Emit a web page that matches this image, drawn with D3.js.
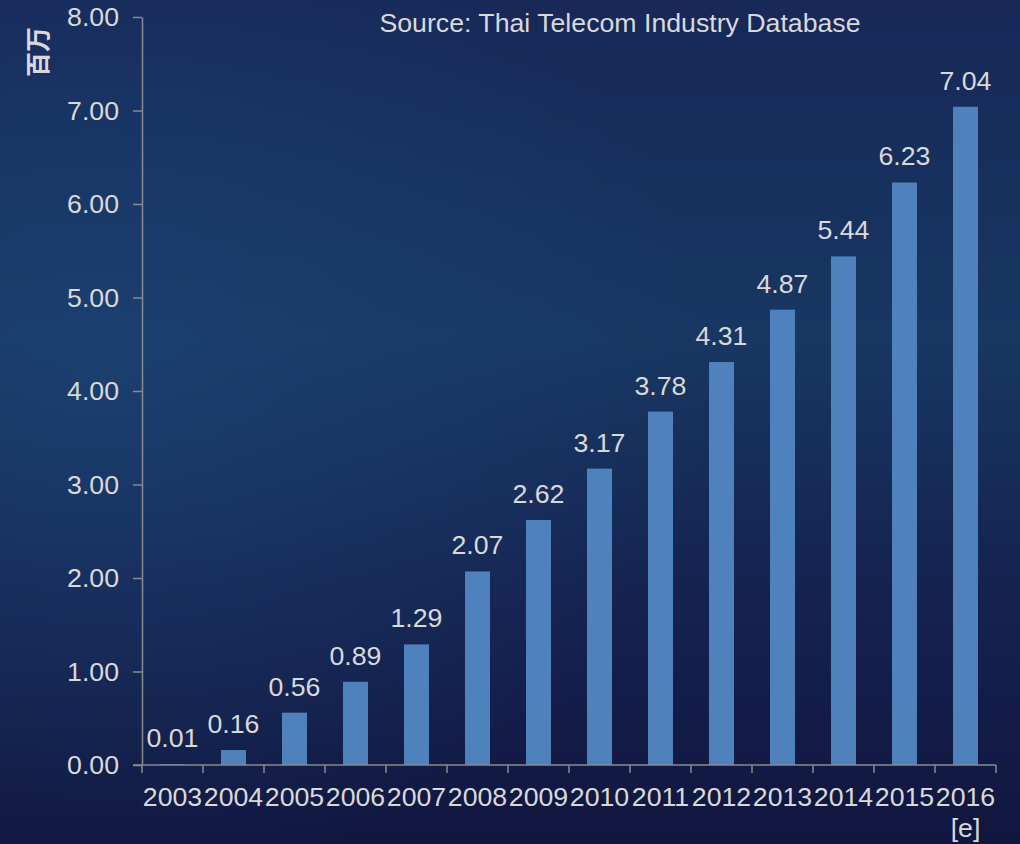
<!DOCTYPE html>
<html>
<head>
<meta charset="utf-8">
<script src="https://cdn.jsdelivr.net/npm/d3@7"></script>
<style>
  html, body { margin: 0; padding: 0; background: #131a45; }
  svg { display: block; }
</style>
</head>
<body>
<svg id="chart" width="1020" height="844"></svg>
<script>
// data
var years = ["2003", "2004", "2005", "2006", "2007", "2008", "2009", "2010", "2011", "2012", "2013", "2014", "2015", "2016"];
var values = [0.01, 0.16, 0.56, 0.89, 1.29, 2.07, 2.62, 3.17, 3.78, 4.31, 4.87, 5.44, 6.23, 7.04];
var yTicks = [0, 1, 2, 3, 4, 5, 6, 7, 8];
var sourceText = "Source: Thai Telecom Industry Database";
var yTitle = "百万";
var estimateNote = "[e]";

function draw() {
    var W = 1020, H = 844;
    var mLeft = 142, mRight = 996, mTop = 17, mBottom = 765;
    var textColor = "#d9d9d9", axisColor = "#8a8a8a", barColor = "#4f81bd";
    var font = "'Liberation Sans', Arial, sans-serif";
    var fs = 26.7;

    var svg = d3.select("#chart");

    // background
    var defs = svg.append("defs");
    var lin = defs.append("linearGradient").attr("id", "bg").attr("x1", 0).attr("y1", 0).attr("x2", 0).attr("y2", 1);
    lin.append("stop").attr("offset", "0%").attr("stop-color", "#172859");
    lin.append("stop").attr("offset", "40%").attr("stop-color", "#183763");
    lin.append("stop").attr("offset", "70%").attr("stop-color", "#152250");
    lin.append("stop").attr("offset", "100%").attr("stop-color", "#11163f");
    var rad = defs.append("radialGradient").attr("id", "glow").attr("cx", 0.1).attr("cy", 0.45).attr("r", 0.6);
    rad.append("stop").attr("offset", "0%").attr("stop-color", "#1d4678").attr("stop-opacity", 0.6);
    rad.append("stop").attr("offset", "100%").attr("stop-color", "#1d4678").attr("stop-opacity", 0);

    svg.append("rect").attr("width", W).attr("height", H).attr("fill", "url(#bg)");
    svg.append("rect").attr("width", W).attr("height", H).attr("fill", "url(#glow)");

    // scales
    var x = d3.scaleBand().domain(years).range([mLeft, mRight]).paddingInner(0.59).paddingOuter(0.295);
    var xEdge = d3.scaleLinear().domain([0, years.length]).range([mLeft, mRight]);
    var y = d3.scaleLinear().domain([0, 8]).range([mBottom, mTop]);

    // bars
    svg.append("g").selectAll("rect")
        .data(values)
        .join("rect")
        .attr("x", function(d, i) { return x(years[i]); })
        .attr("y", function(d) { return y(d); })
        .attr("width", x.bandwidth())
        .attr("height", function(d) { return y(0) - y(d); })
        .attr("fill", barColor);

    // value labels
    svg.append("g").selectAll("text")
        .data(values)
        .join("text")
        .attr("x", function(d, i) { return x(years[i]) + x.bandwidth() / 2; })
        .attr("y", function(d) { return y(d) - 17; })
        .attr("text-anchor", "middle")
        .attr("font-family", font)
        .attr("font-size", fs)
        .attr("fill", textColor)
        .text(function(d) { return d.toFixed(2); });

    // y axis
    var yAxis = svg.append("g")
        .attr("transform", "translate(" + mLeft + ",0)")
        .call(d3.axisLeft(y).tickValues(yTicks).tickFormat(d3.format(".2f")).tickSize(9).tickSizeOuter(0).tickPadding(14));
    yAxis.select(".domain").attr("stroke", axisColor).attr("stroke-width", 1.5);
    yAxis.selectAll(".tick line").attr("stroke", axisColor).attr("stroke-width", 1.5);
    yAxis.selectAll(".tick text")
        .attr("font-family", font)
        .attr("font-size", fs)
        .attr("fill", textColor);

    // x axis: line plus ticks at category edges
    var xAxis = svg.append("g");
    xAxis.append("line")
        .attr("x1", mLeft - 9).attr("x2", mRight)
        .attr("y1", y(0)).attr("y2", y(0))
        .attr("stroke", axisColor).attr("stroke-width", 1.5);
    xAxis.selectAll(".xt")
        .data(d3.range(years.length + 1))
        .join("line")
        .attr("class", "xt")
        .attr("x1", function(d) { return xEdge(d); })
        .attr("x2", function(d) { return xEdge(d); })
        .attr("y1", y(0)).attr("y2", y(0) + 8)
        .attr("stroke", axisColor).attr("stroke-width", 1.5);
    xAxis.selectAll("text")
        .data(years)
        .join("text")
        .attr("x", function(d) { return x(d) + x.bandwidth() / 2; })
        .attr("y", y(0) + 41)
        .attr("text-anchor", "middle")
        .attr("font-family", font)
        .attr("font-size", fs)
        .attr("fill", textColor)
        .text(function(d) { return d; });
    svg.append("text")
        .attr("x", x(years[years.length - 1]) + x.bandwidth() / 2)
        .attr("y", y(0) + 72)
        .attr("text-anchor", "middle")
        .attr("font-family", font)
        .attr("font-size", fs)
        .attr("fill", textColor)
        .text(estimateNote);

    // y title
    svg.append("text")
        .attr("transform", "translate(47,52) rotate(-90)")
        .attr("text-anchor", "middle")
        .attr("font-family", "'Noto Sans CJK SC', sans-serif")
        .attr("font-size", 25)
        .attr("font-weight", "bold")
        .attr("fill", textColor)
        .text(yTitle);

    // source
    svg.append("text")
        .attr("x", 620)
        .attr("y", 32)
        .attr("text-anchor", "middle")
        .attr("font-family", font)
        .attr("font-size", fs)
        .attr("fill", textColor)
        .text(sourceText);
}

draw();
</script>
</body>
</html>
